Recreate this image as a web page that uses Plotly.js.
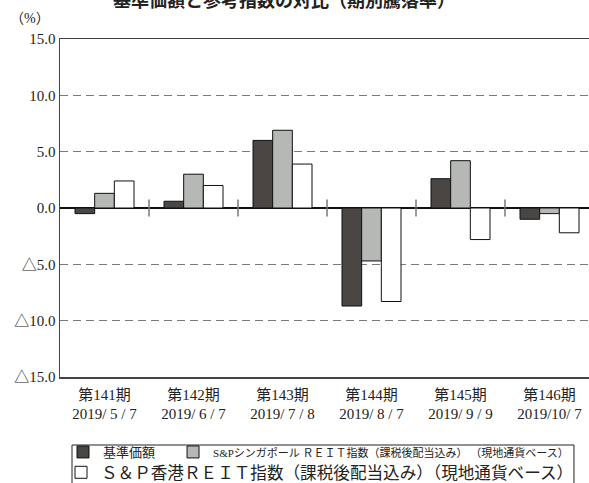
<!DOCTYPE html>
<html>
<head>
<meta charset="utf-8">
<script src="https://cdn.plot.ly/plotly-3.0.1.min.js"></script>
<style>
html,body{margin:0;padding:0;overflow:hidden;background:#fff;}
#chart{width:594px;height:483px;}
</style>
</head>
<body>
<div id="chart"></div>
<script>
// ---- data ----
const periods = ["第141期", "第142期", "第143期", "第144期", "第145期", "第146期"];
const dates = ["2019/ 5 / 7", "2019/ 6 / 7", "2019/ 7 / 8", "2019/ 8 / 7", "2019/ 9 / 9", "2019/10/ 7"];
const fundReturn = [-0.5, 0.6, 6.0, -8.7, 2.6, -1.0];
const singaporeReit = [1.3, 3.0, 6.9, -4.7, 4.2, -0.5];
const hongkongReit = [2.4, 2.0, 3.9, -8.3, -2.8, -2.2];
const yTickVals = [-15, -10, -5, 0, 5, 10, 15];
const yTickText = ["△15.0", "△10.0", "△5.0", "0.0", "5.0", "10.0", "15.0"];
const seriesNames = [
  "<span style=\"font-size:13px\">基準価額　</span>",
  "<span style=\"font-size:11px\">S&amp;Pシンガポール ＲＥＩＴ指数（課税後配当込み） （現地通貨ベース）</span>",
  "Ｓ＆Ｐ香港ＲＥＩＴ指数（課税後配当込み）（現地通貨ベース）"
];

const cats = periods.map((p, i) => p + "<br>" + dates[i]);
const FONT = "'Liberation Serif', 'Noto Sans CJK JP', serif";

function bar(name, vals, color, legendId) {
  return {
    type: "bar", name: name, x: cats, y: vals,
    legend: legendId,
    marker: {color: color, line: {color: "#111", width: 1}},
    hoverinfo: "skip"
  };
}

const data = [
  bar(seriesNames[0], fundReturn, "#4a4644", "legend"),
  bar(seriesNames[1], singaporeReit, "#b6b8b6", "legend"),
  bar(seriesNames[2], hongkongReit, "#ffffff", "legend2")
];

// dividers between periods (small vertical marks on the zero line)
const shapes = [];
for (let i = 1; i < cats.length; i++) {
  shapes.push({
    type: "line", xref: "x", yref: "y",
    x0: i - 0.5, x1: i - 0.5, y0: -0.75, y1: 0.75,
    line: {color: "#777", width: 1.5}
  });
}
// legend frame
shapes.push({
  type: "rect", xref: "paper", yref: "paper",
  x0: 0.0225, x1: 0.9625, y0: -0.34, y1: -0.2012,
  line: {color: "#222", width: 1}, fillcolor: "rgba(0,0,0,0)"
});

const legendCommon = {
  orientation: "h", xref: "container", yref: "container",
  xanchor: "left", yanchor: "top",
  bgcolor: "rgba(0,0,0,0)", borderwidth: 0,
  traceorder: "normal", itemclick: false, itemdoubleclick: false
};

const layout = {
  width: 594, height: 483,
  margin: {l: 60, r: 0, t: 39, b: 106, autoexpand: false},
  paper_bgcolor: "#fff", plot_bgcolor: "#fff",
  font: {family: FONT, color: "#222", size: 14},
  title: {
    text: "基準価額と参考指数の対比（期別騰落率）",
    font: {family: "'Noto Sans CJK JP', sans-serif", size: 18, weight: "bold", color: "#222"},
    xref: "container", x: 0.478, xanchor: "center",
    yref: "container", y: 0.998, yanchor: "middle"
  },
  barmode: "group",
  bargap: 0.337, bargroupgap: 0,
  xaxis: {
    type: "category",
    range: [-0.5, 5.5],
    showgrid: false, zeroline: false,
    showline: true, mirror: true, linecolor: "#444", linewidth: 1.5,
    ticks: "", ticklen: 0, ticklabelstandoff: 3,
    tickfont: {family: FONT, size: 15, color: "#222"},
    fixedrange: true
  },
  yaxis: {
    range: [-15, 15],
    tickvals: yTickVals, ticktext: yTickText,
    showgrid: true, gridcolor: "#7a7a7a", gridwidth: 1.5, griddash: "8px,5px",
    zeroline: true, zerolinecolor: "#111", zerolinewidth: 1.5,
    showline: true, mirror: true, linecolor: "#444", linewidth: 1.5,
    ticks: "", ticklen: 0,
    tickfont: {family: FONT, size: 15, color: "#222"},
    fixedrange: true
  },
  shapes: shapes,
  annotations: [{
    text: "（%）", xref: "paper", yref: "paper",
    x: -0.056, y: 1.062, xanchor: "center", yanchor: "middle",
    showarrow: false, font: {family: FONT, size: 14, color: "#222"}
  }],
  showlegend: true,
  legend: Object.assign({}, legendCommon, {
    x: 63 / 594, y: 1 - 437 / 483,
    font: {family: FONT, size: 13, color: "#222"}
  }),
  legend2: Object.assign({}, legendCommon, {
    x: 61 / 594, y: 1 - 455 / 483,
    font: {family: FONT, size: 16.6, color: "#222"}
  })
};

Plotly.newPlot("chart", data, layout, {staticPlot: true, displayModeBar: false});
</script>
</body>
</html>
